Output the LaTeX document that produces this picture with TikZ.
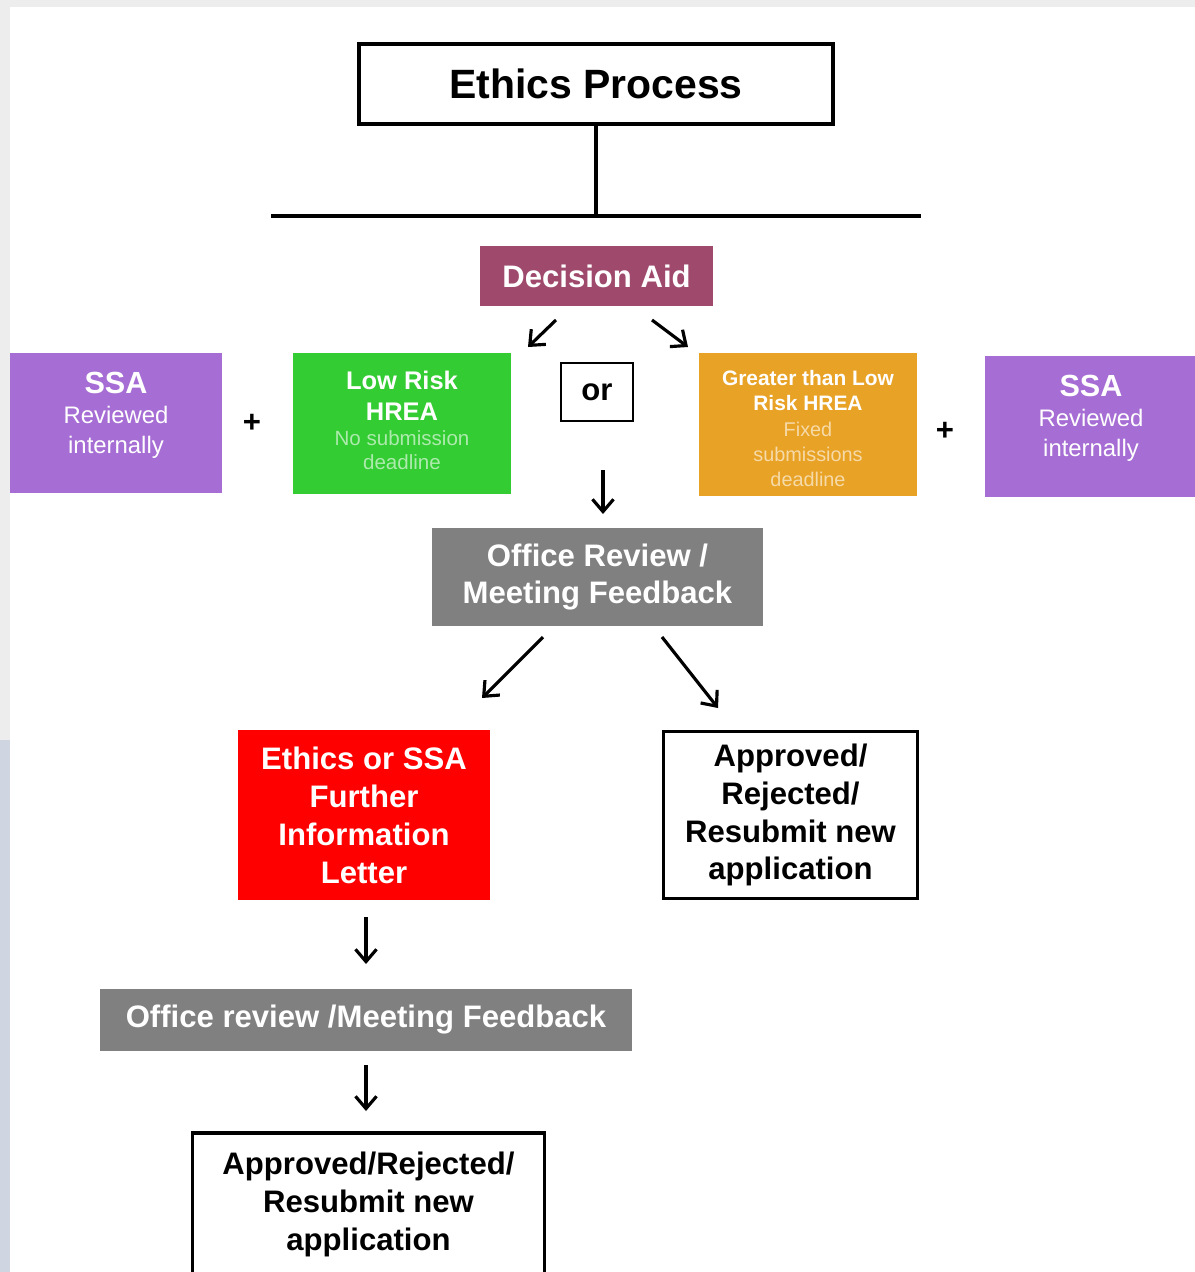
\documentclass[tikz,border=0pt]{standalone}
\usepackage{fontspec}
\setmainfont{Liberation Sans}
\usetikzlibrary{arrows.meta}

\def\px{0.02cm}
\def\kasten#1#2#3#4#5#6#7{\node[#1,minimum width={#5*\px},minimum height={#6*\px}] (#2) at (#3,#4) {#7};}

\newcommand\fTitel{\fontsize{23.3}{28}\selectfont\bfseries}
\newcommand\fGross{\fontsize{17.7}{21.6}\selectfont\bfseries}
\newcommand\fSSA{\fontsize{17.4}{18}\selectfont\bfseries}
\newcommand\fSSAklein{\fontsize{13.6}{17}\selectfont}
\newcommand\fLow{\fontsize{14.5}{17.6}\selectfont\bfseries}
\newcommand\fLowklein{\fontsize{11.7}{14.2}\selectfont}
\newcommand\fHigh{\fontsize{11.9}{14.2}\selectfont\bfseries}
\newcommand\fHighklein{\fontsize{11.3}{14.4}\selectfont}

\definecolor{aidcol}{HTML}{9F4A6C}
\definecolor{ssacol}{HTML}{A66DD4}
\definecolor{lowcol}{HTML}{33CC33}
\definecolor{highcol}{HTML}{E8A226}
\definecolor{revcol}{HTML}{808080}
\definecolor{infocol}{HTML}{FF0000}
\definecolor{randcol}{HTML}{EDEDED}
\definecolor{blaucol}{HTML}{D0D5E2}

\tikzset{
	randbox/.style={draw,line width=1.8pt,align=center,inner sep=0pt,font=\fGross},
	farbbox/.style={fill=#1,text=white,align=center,inner sep=0pt,font=\fGross},
}

\begin{document}
\begin{tikzpicture}[x=\px,y=-\px,>={Straight Barb[length=7pt,width=12pt]},line width=1.8pt]

\useasboundingbox (0,0) rectangle (1195,1272);
\fill[randcol] (0,0) rectangle (1195,1272);
\fill[blaucol] (0,740) rectangle (10,1272);
\fill[white] (10,7) rectangle (1195,1272);

\kasten{randbox,line width=2pt,font=\fTitel}{titel}{596}{84}{474}{80}{Ethics Process}
\coordinate (balkenL) at (271,216);
\coordinate (balkenR) at (921,216);
\draw (titel.south) -- (titel.south |- balkenL);
\draw (balkenL) -- (balkenR);

\kasten{farbbox=aidcol}{aid}{596.5}{276}{233}{60}{Decision Aid}

\kasten{farbbox=ssacol,font=\fSSAklein}{ssaL}{116}{423}{212}{140}{{\fSSA SSA}\\Reviewed\\internally\\[-5pt]\mbox{}}
\kasten{farbbox=lowcol,font=\fLowklein}{low}{402}{423.5}{218}{141}{{\fLow Low Risk}\\[3pt]{\fLow HREA}\\{\color{lowcol!40!white}No submission}\\{\color{lowcol!40!white}deadline}\\[-11pt]\mbox{}}
\kasten{randbox,line width=1.5pt}{oder}{597}{392}{72}{58}{or}
\kasten{farbbox=highcol,font=\fHighklein}{high}{808}{424.5}{218}{143}{\mbox{}\\[-1pt]{\fHigh Greater than Low}\\{\fHigh Risk HREA}\\{\color{highcol!40!white}Fixed}\\{\color{highcol!40!white}submissions}\\{\color{highcol!40!white}deadline}}
\kasten{farbbox=ssacol,font=\fSSAklein}{ssaR}{1091}{426.5}{212}{141}{{\fSSA SSA}\\Reviewed\\internally\\[-5pt]\mbox{}}

\node[font=\fGross] (plusL) at (252,423) {+};
\node[font=\fGross] (plusR) at (945,431) {+};

\kasten{farbbox=revcol}{rev}{597.5}{577}{331}{98}{Office Review /\\Meeting Feedback}
\kasten{farbbox=infocol}{info}{364}{815}{252}{170}{Ethics or SSA\\Further\\Information\\Letter}
\kasten{randbox}{ende}{790.5}{815}{254}{167}{Approved/\\Rejected/\\Resubmit new\\application}
\kasten{farbbox=revcol}{rev2}{366}{1020}{532}{62}{Office review /Meeting Feedback}
\kasten{randbox}{ende2}{368.5}{1204}{352}{142}{Approved/Rejected/\\Resubmit new\\application}

% Pfeile
\coordinate (p1a) at (556,320); \coordinate (p1b) at (528,347);
\coordinate (p2a) at (652,320); \coordinate (p2b) at (688,347);
\coordinate (p3a) at (603,470); \coordinate (p3b) at (603,514);
\coordinate (p4a) at (543,637); \coordinate (p4b) at (482,698);
\coordinate (p5a) at (662,637); \coordinate (p5b) at (718,708);
\coordinate (p6a) at (366,917); \coordinate (p6b) at (366,964);
\coordinate (p7a) at (366,1065); \coordinate (p7b) at (366,1111);
\foreach \i in {1,...,7}{
	\draw[->] (p\i a) -- (p\i b);
}

\end{tikzpicture}
\end{document}
